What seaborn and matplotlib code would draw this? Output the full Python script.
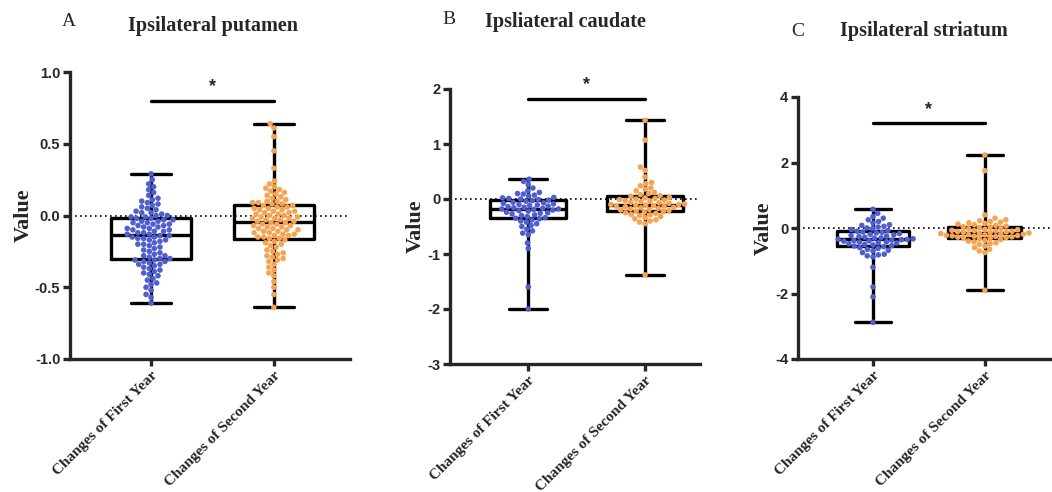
import numpy as np
import seaborn as sns
import matplotlib.pyplot as plt
import pandas as pd

groups = ["Changes of First Year", "Changes of Second Year"]

# panel A - ipsilateral putamen
putamen_first = [
    -0.61, -0.57, -0.55, -0.52, -0.50, -0.48, -0.47, -0.45, -0.44, -0.42,
    -0.41, -0.40, -0.39, -0.38, -0.37, -0.36, -0.35, -0.34, -0.34, -0.33,
    -0.32, -0.32, -0.31, -0.31, -0.30, -0.30, -0.29, -0.28, -0.28, -0.27,
    -0.26, -0.25, -0.24, -0.23, -0.22, -0.21, -0.20, -0.20, -0.19, -0.18,
    -0.17, -0.17, -0.16, -0.16, -0.15, -0.15, -0.14, -0.14, -0.13, -0.13,
    -0.12, -0.12, -0.11, -0.11, -0.10, -0.10, -0.09, -0.09, -0.08, -0.08,
    -0.07, -0.07, -0.06, -0.06, -0.05, -0.05, -0.04, -0.04, -0.03, -0.03,
    -0.02, -0.02, -0.01, -0.01, 0.00, 0.00, 0.01, 0.02, 0.02, 0.03,
    0.04, 0.05, 0.06, 0.07, 0.08, 0.09, 0.10, 0.11, 0.12, 0.14,
    0.16, 0.18, 0.20, 0.22, 0.25, 0.29,
]
putamen_second = [
    -0.64, -0.55, -0.50, -0.46, -0.42, -0.40, -0.38, -0.36, -0.34, -0.32,
    -0.31, -0.30, -0.29, -0.28, -0.27, -0.26, -0.25, -0.24, -0.22, -0.21,
    -0.20, -0.19, -0.18, -0.17, -0.16, -0.16, -0.15, -0.15, -0.14, -0.14,
    -0.13, -0.13, -0.12, -0.12, -0.11, -0.11, -0.10, -0.10, -0.09, -0.09,
    -0.08, -0.08, -0.07, -0.07, -0.06, -0.06, -0.05, -0.05, -0.04, -0.04,
    -0.03, -0.03, -0.02, -0.02, -0.02, -0.01, -0.01, 0.00, 0.00, 0.01,
    0.01, 0.02, 0.02, 0.03, 0.03, 0.04, 0.04, 0.05, 0.05, 0.06,
    0.06, 0.07, 0.07, 0.08, 0.08, 0.09, 0.09, 0.10, 0.10, 0.11,
    0.12, 0.13, 0.14, 0.15, 0.16, 0.17, 0.18, 0.19, 0.20, 0.22,
    0.24, 0.33, 0.45, 0.55, 0.61, 0.64,
]

# panel B - ipsilateral caudate
caudate_first = [
    -2.00, -1.60, -0.90, -0.80, -0.65, -0.62, -0.58, -0.55, -0.50, -0.48,
    -0.45, -0.42, -0.40, -0.38, -0.36, -0.35, -0.34, -0.32, -0.30, -0.29,
    -0.27, -0.26, -0.25, -0.24, -0.22, -0.21, -0.20, -0.19, -0.18, -0.18,
    -0.17, -0.16, -0.15, -0.14, -0.13, -0.12, -0.11, -0.10, -0.09, -0.08,
    -0.07, -0.06, -0.04, -0.03, -0.02, -0.01, 0.00, 0.01, 0.02, 0.03,
    0.05, 0.07, 0.09, 0.10, 0.12, 0.15, 0.20, 0.26, 0.32, 0.36,
]
caudate_second = [
    -1.38, -0.45, -0.42, -0.40, -0.38, -0.36, -0.34, -0.32, -0.30, -0.29,
    -0.28, -0.26, -0.25, -0.24, -0.23, -0.22, -0.21, -0.20, -0.19, -0.18,
    -0.17, -0.16, -0.15, -0.14, -0.13, -0.13, -0.12, -0.11, -0.11, -0.10,
    -0.10, -0.09, -0.08, -0.07, -0.06, -0.05, -0.04, -0.03, -0.02, -0.01,
    0.00, 0.01, 0.02, 0.03, 0.05, 0.06, 0.08, 0.10, 0.12, 0.15,
    0.18, 0.20, 0.24, 0.28, 0.30, 0.40, 0.52, 0.58, 1.07, 1.43,
]

# panel C - ipsilateral striatum
striatum_first = [
    -2.88, -2.10, -1.80, -1.20, -0.88, -0.85, -0.82, -0.80, -0.75, -0.70,
    -0.68, -0.65, -0.62, -0.60, -0.57, -0.55, -0.54, -0.52, -0.50, -0.48,
    -0.46, -0.45, -0.43, -0.42, -0.40, -0.39, -0.38, -0.37, -0.36, -0.35,
    -0.34, -0.33, -0.31, -0.30, -0.28, -0.26, -0.25, -0.23, -0.21, -0.19,
    -0.17, -0.15, -0.13, -0.12, -0.10, -0.08, -0.05, -0.02, 0.00, 0.03,
    0.05, 0.08, 0.10, 0.15, 0.20, 0.25, 0.30, 0.35, 0.45, 0.57,
]
striatum_second = [
    -1.90, -0.75, -0.70, -0.65, -0.60, -0.55, -0.50, -0.48, -0.45, -0.42,
    -0.40, -0.38, -0.35, -0.33, -0.31, -0.30, -0.29, -0.28, -0.27, -0.26,
    -0.25, -0.24, -0.23, -0.22, -0.21, -0.20, -0.19, -0.18, -0.17, -0.16,
    -0.15, -0.14, -0.13, -0.12, -0.11, -0.10, -0.09, -0.08, -0.07, -0.05,
    -0.04, -0.02, -0.01, 0.01, 0.03, 0.04, 0.06, 0.08, 0.10, 0.12,
    0.14, 0.16, 0.18, 0.20, 0.22, 0.25, 0.30, 0.40, 1.75, 2.23,
]

letters = ["A", "B", "C"]
titles = ["Ipsilateral putamen", "Ipsliateral caudate", "Ipsilateral striatum"]
yticks = [[-1.0, -0.5, 0.0, 0.5, 1.0], [-3, -2, -1, 0, 1, 2], [-4, -2, 0, 2, 4]]
ytick_labels = [["-1.0", "-0.5", "0.0", "0.5", "1.0"],
                ["-3", "-2", "-1", "0", "1", "2"],
                ["-4", "-2", "0", "2", "4"]]
sig_level = [0.8, 1.82, 3.2]

panels = [(putamen_first, putamen_second),
          (caudate_first, caudate_second),
          (striatum_first, striatum_second)]

palette = ["#4f5fcf", "#f6a452"]

sns.set_style("ticks")
plt.rcParams["font.family"] = ["Liberation Sans", "DejaVu Sans"]

W, H = 1052, 492
fig = plt.figure(figsize=(W / 100, H / 100), dpi=100)

# axes boxes in pixels: left, right, top, bottom
boxes = [(70, 350, 72, 359), (450, 700, 89, 364), (798, 1052, 97, 359)]
xlims = [(-0.66, 1.62), (-0.67, 1.47), (-0.67, 1.6)]
letter_pos = [(62, 22), (442, 19), (791, 31)]
title_pos = [(213, 26), (565, 22), (924, 31)]

serif = ["Liberation Serif", "DejaVu Serif"]

for i, (first, second) in enumerate(panels):
    l, r, t, b = boxes[i]
    ax = fig.add_axes([l / W, 1 - b / H, (r - l) / W, (b - t) / H])

    df = pd.DataFrame({
        "group": [groups[0]] * len(first) + [groups[1]] * len(second),
        "value": first + second,
    })

    ax.axhline(0, color="black", ls=(0, (1, 2)), lw=1.2, zorder=0)

    sns.boxplot(data=df, x="group", y="value", order=groups, ax=ax,
                whis=(0, 100), width=0.65, fill=False, color="black",
                linewidth=2.4, showfliers=False, zorder=2)
    sns.swarmplot(data=df, x="group", y="value", order=groups, ax=ax,
                  hue="group", palette=palette, size=4, legend=False,
                  zorder=3, warn_thresh=1)

    ymin, ymax = yticks[i][0], yticks[i][-1]
    ax.set_ylim(ymin, ymax)
    ax.set_xlim(*xlims[i])
    ax.set_yticks(yticks[i])
    ax.set_yticklabels(ytick_labels[i], fontsize=10.5, fontweight="bold")
    ax.set_xticks([0, 1])
    ax.set_xticklabels(groups, rotation=45, ha="right",
                       rotation_mode="anchor", fontsize=11,
                       fontweight="bold", family=serif)
    ax.set_xlabel("")
    ax.set_ylabel("Value", fontsize=16, fontweight="bold", family=serif,
                  labelpad=1)

    for s in ["top", "right"]:
        ax.spines[s].set_visible(False)
    for s in ["left", "bottom"]:
        ax.spines[s].set_linewidth(2.4)
    ax.tick_params(width=2.4, length=5, pad=2)

    # significance bar
    span = ymax - ymin
    ax.plot([0, 1], [sig_level[i], sig_level[i]], color="black", lw=2.4)
    ax.text(0.5, sig_level[i] + 0.02 * span, "*", ha="center", va="bottom",
            fontsize=13, fontweight="bold")

    fig.text(letter_pos[i][0] / W, 1 - letter_pos[i][1] / H, letters[i],
             fontsize=14, family=serif, ha="left", va="center")
    fig.text(title_pos[i][0] / W, 1 - title_pos[i][1] / H, titles[i],
             fontsize=14.5, fontweight="bold", family=serif,
             ha="center", va="center")

fig.savefig("out.png", dpi=100)
